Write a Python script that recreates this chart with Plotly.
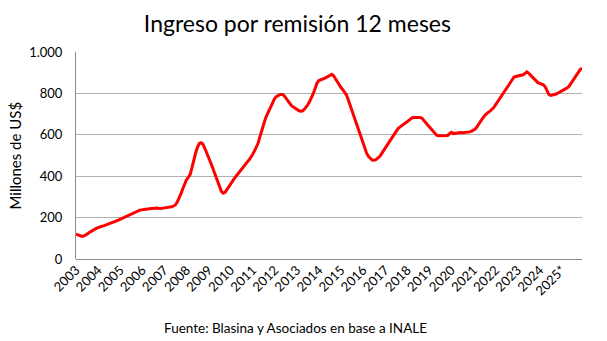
import plotly.graph_objects as go

# Ingreso por remisión, acumulado 12 meses (millones de US$), serie mensual desde enero 2003
ingreso_2003 = [120, 116, 112, 110, 110, 114, 120, 127, 133, 138, 143, 148]
ingreso_2004 = [152, 156, 158, 160, 163, 166, 170, 173, 177, 180, 184, 188]
ingreso_2005 = [192, 196, 200, 205, 210, 215, 219, 222, 226, 229, 233, 237]
ingreso_2006 = [238, 240, 241, 242, 243, 244, 245, 245, 246, 244, 243, 245]
ingreso_2007 = [247, 248, 249, 250, 252, 256, 261, 275, 292, 315, 338, 360]
ingreso_2008 = [382, 394, 408, 440, 480, 512, 540, 558, 562, 555, 535, 510]
ingreso_2009 = [488, 470, 447, 423, 400, 375, 348, 327, 318, 322, 335, 350]
ingreso_2010 = [362, 375, 388, 400, 412, 425, 438, 448, 458, 468, 478, 490]
ingreso_2011 = [505, 522, 540, 560, 592, 625, 655, 680, 700, 720, 740, 760]
ingreso_2012 = [776, 785, 792, 795, 795, 790, 778, 765, 752, 742, 735, 728]
ingreso_2013 = [722, 717, 714, 715, 722, 732, 745, 762, 778, 800, 825, 850]
ingreso_2014 = [862, 867, 870, 873, 877, 882, 887, 892, 885, 870, 855, 840]
ingreso_2015 = [828, 818, 805, 792, 768, 742, 712, 685, 660, 632, 605, 580]
ingreso_2016 = [558, 535, 510, 495, 484, 478, 477, 480, 487, 494, 508, 522]
ingreso_2017 = [535, 545, 560, 575, 590, 605, 620, 630, 637, 643, 650, 657]
ingreso_2018 = [663, 670, 678, 684, 684, 685, 684, 684, 680, 670, 660, 650]
ingreso_2019 = [640, 630, 620, 608, 598, 595, 595, 596, 595, 596, 597, 605]
ingreso_2020 = [612, 606, 608, 610, 610, 611, 610, 611, 612, 612, 614, 618]
ingreso_2021 = [622, 628, 640, 655, 668, 680, 692, 702, 708, 714, 722, 732]
ingreso_2022 = [745, 758, 772, 786, 800, 812, 825, 838, 852, 866, 878, 882]
ingreso_2023 = [884, 885, 888, 890, 896, 904, 898, 888, 880, 870, 860, 852]
ingreso_2024 = [848, 845, 842, 832, 815, 795, 790, 792, 794, 797, 802, 808]
ingreso_2025 = [813, 818, 822, 827, 835, 848, 862, 873, 885, 900, 915, 922]

ingreso = (ingreso_2003 + ingreso_2004 + ingreso_2005 + ingreso_2006 + ingreso_2007
           + ingreso_2008 + ingreso_2009 + ingreso_2010 + ingreso_2011 + ingreso_2012
           + ingreso_2013 + ingreso_2014 + ingreso_2015 + ingreso_2016 + ingreso_2017
           + ingreso_2018 + ingreso_2019 + ingreso_2020 + ingreso_2021 + ingreso_2022
           + ingreso_2023 + ingreso_2024 + ingreso_2025)

anios = ["2003", "2004", "2005", "2006", "2007", "2008", "2009", "2010", "2011",
         "2012", "2013", "2014", "2015", "2016", "2017", "2018", "2019", "2020",
         "2021", "2022", "2023", "2024", "2025*"]

y_ticks = [0, 200, 400, 600, 800, 1000]
y_tick_text = ["0", "200", "400", "600", "800", "1.000"]

meses = list(range(len(ingreso)))
FONT = "Lato"

fig = go.Figure()
fig.add_trace(go.Scatter(
    x=meses, y=ingreso, mode="lines",
    line=dict(color="#ff0000", width=3),
    hoverinfo="skip", showlegend=False,
))

fig.update_layout(
    width=607, height=341,
    margin=dict(l=76, r=25, t=52, b=82),
    paper_bgcolor="white", plot_bgcolor="white",
    font=dict(family=FONT, size=13, color="#000000"),
    title=dict(text="Ingreso por remisión 12 meses", x=0.49, xanchor="center",
               y=0.93, yanchor="middle",
               font=dict(family=FONT, size=23, color="#000000")),
    xaxis=dict(
        range=[0, len(ingreso) - 1],
        tickmode="array",
        tickvals=[12 * i for i in range(len(anios))],
        ticktext=anios,
        tickangle=-45,
        showgrid=False, zeroline=False,
        showline=False, ticks="",
        tickfont=dict(family=FONT, size=13, color="#000000"),
    ),
    yaxis=dict(
        range=[0, 1000],
        tickmode="array",
        tickvals=y_ticks, ticktext=y_tick_text,
        showgrid=True, gridcolor="#b0b0b0", gridwidth=1,
        zeroline=True, zerolinecolor="#8c8c8c", zerolinewidth=1,
        showline=True, linecolor="#8c8c8c", linewidth=1,
        ticks="", ticklabelstandoff=10,
        tickfont=dict(family=FONT, size=13, color="#000000"),
    ),
    annotations=[
        dict(text="Millones de US$", textangle=-90, xref="paper", yref="paper",
             x=(14 - 76) / 506, y=0.5, xanchor="center", yanchor="middle",
             showarrow=False, font=dict(family=FONT, size=15, color="#000000")),
        dict(text="Fuente: Blasina y Asociados en base a INALE", xref="paper", yref="paper",
             x=(295 - 76) / 506, y=(259 - 328) / 207, xanchor="center", yanchor="middle",
             showarrow=False, font=dict(family=FONT, size=13.5, color="#000000")),
    ],
)

fig.write_html("out.html")
